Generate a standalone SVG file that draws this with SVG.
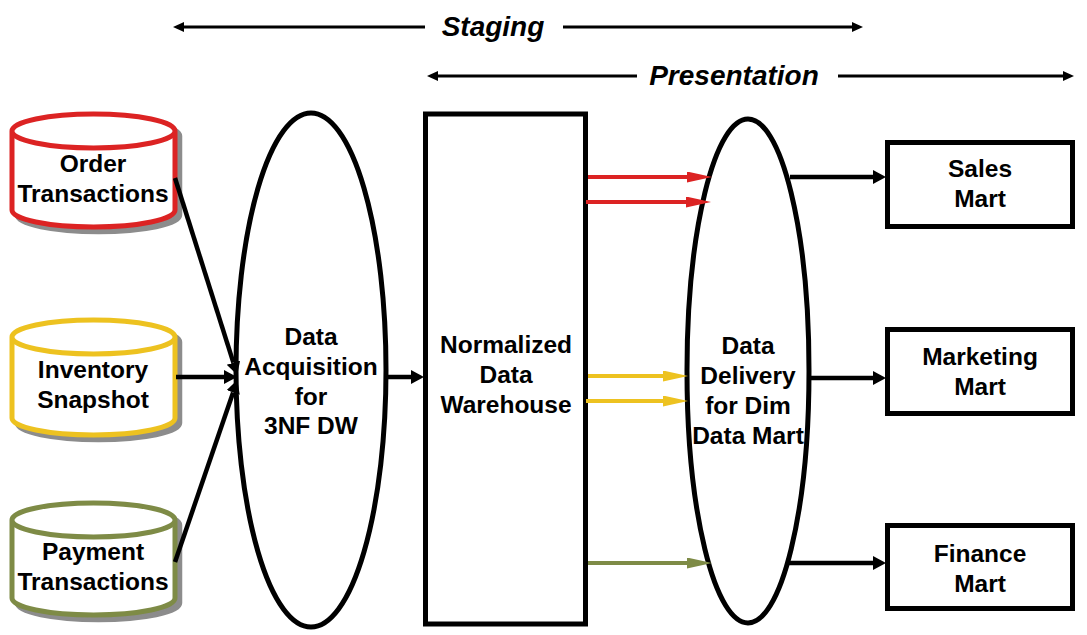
<svg xmlns="http://www.w3.org/2000/svg" width="1087" height="635" viewBox="0 0 1087 635">
<style>
.t{font-family:"Liberation Sans",Arial,sans-serif;font-weight:bold;font-size:24.5px;fill:#000;text-anchor:middle}
.h{font-family:"Liberation Sans",Arial,sans-serif;font-weight:bold;font-style:italic;font-size:28px;fill:#000;text-anchor:middle}
.shape{fill:#fff;stroke:#000;stroke-width:5}
.shadow{fill:#8c8c8c;stroke:#8c8c8c;stroke-width:4.5}
.cyl{fill:#fff;stroke-width:5}
.blk{stroke:#000;stroke-width:4.5;fill:none}
.top{stroke:#000;stroke-width:3;fill:none}
</style>
<defs>
<marker id="ab" markerUnits="userSpaceOnUse" markerWidth="14" markerHeight="16" refX="0" refY="7" orient="auto" viewBox="0 0 14 16"><path d="M0,0 L13,7 L0,14 Z" fill="#000"/></marker>
<marker id="at" markerUnits="userSpaceOnUse" markerWidth="12" markerHeight="12" refX="0" refY="5" orient="auto" viewBox="0 0 12 12"><path d="M0,0 L11,5 L0,10 Z" fill="#000"/></marker>
<marker id="ar" markerUnits="userSpaceOnUse" markerWidth="26" markerHeight="12" refX="0" refY="5.5" orient="auto" viewBox="0 0 26 12"><path d="M0,0 L25,5.5 L0,11 Z" fill="#dc2323"/></marker>
<marker id="ay" markerUnits="userSpaceOnUse" markerWidth="26" markerHeight="12" refX="0" refY="5.5" orient="auto" viewBox="0 0 26 12"><path d="M0,0 L25,5.5 L0,11 Z" fill="#edc220"/></marker>
<marker id="ao" markerUnits="userSpaceOnUse" markerWidth="26" markerHeight="12" refX="0" refY="5.5" orient="auto" viewBox="0 0 26 12"><path d="M0,0 L25,5.5 L0,11 Z" fill="#7e8b46"/></marker>
</defs>

<g id="staging-label">
<line class="top" x1="425" y1="27" x2="184" y2="27" marker-end="url(#at)"/>
<line class="top" x1="563" y1="27" x2="852" y2="27" marker-end="url(#at)"/>
<text class="h" x="493" y="36">Staging</text>
</g>
<g id="presentation-label">
<line class="top" x1="637" y1="76" x2="438" y2="76" marker-end="url(#at)"/>
<line class="top" x1="838" y1="76" x2="1063" y2="76" marker-end="url(#at)"/>
<text class="h" x="734" y="85">Presentation</text>
</g>

<g id="order-transactions">
<path class="shadow" transform="translate(5,5)" d="M12,131 L12,210 A81.5,17 0 0 0 175,210 L175,131 A81.5,17 0 0 0 12,131 Z"/>
<path class="cyl" stroke="#dc2323" d="M12,131 L12,210 A81.5,17 0 0 0 175,210 L175,131 A81.5,17 0 0 0 12,131 Z M12,131 A81.5,17 0 0 0 175,131"/>
<text class="t" x="93" y="172">Order</text>
<text class="t" x="93" y="202">Transactions</text>
</g>
<g id="inventory-snapshot">
<path class="shadow" transform="translate(5,5)" d="M12,337 L12,418 A81.5,17 0 0 0 175,418 L175,337 A81.5,17 0 0 0 12,337 Z"/>
<path class="cyl" stroke="#edc220" d="M12,337 L12,418 A81.5,17 0 0 0 175,418 L175,337 A81.5,17 0 0 0 12,337 Z M12,337 A81.5,17 0 0 0 175,337"/>
<text class="t" x="93" y="378">Inventory</text>
<text class="t" x="93" y="408">Snapshot</text>
</g>
<g id="payment-transactions">
<path class="shadow" transform="translate(5,5)" d="M12,520 L12,598 A81.5,17 0 0 0 175,598 L175,520 A81.5,17 0 0 0 12,520 Z"/>
<path class="cyl" stroke="#7e8b46" d="M12,520 L12,598 A81.5,17 0 0 0 175,598 L175,520 A81.5,17 0 0 0 12,520 Z M12,520 A81.5,17 0 0 0 175,520"/>
<text class="t" x="93" y="560">Payment</text>
<text class="t" x="93" y="590">Transactions</text>
</g>

<g id="data-acquisition">
<ellipse class="shape" cx="311" cy="370" rx="75" ry="257"/>
<text class="t" x="311" y="345">Data</text>
<text class="t" x="311" y="375">Acquisition</text>
<text class="t" x="311" y="405">for</text>
<text class="t" x="311" y="434">3NF DW</text>
</g>
<g id="normalized-dw">
<rect class="shape" x="425.5" y="114" width="160" height="510"/>
<text class="t" x="506" y="353">Normalized</text>
<text class="t" x="506" y="383">Data</text>
<text class="t" x="506" y="413">Warehouse</text>
</g>
<g id="data-delivery">
<ellipse class="shape" cx="748" cy="371" rx="61" ry="252"/>
<text class="t" x="748" y="354">Data</text>
<text class="t" x="748" y="384">Delivery</text>
<text class="t" x="748" y="414">for Dim</text>
<text class="t" x="748" y="444">Data Mart</text>
</g>
<g id="sales-mart">
<rect class="shape" x="887.5" y="142.5" width="185" height="84"/>
<text class="t" x="980" y="177">Sales</text>
<text class="t" x="980" y="207">Mart</text>
</g>
<g id="marketing-mart">
<rect class="shape" x="887.5" y="329.5" width="185" height="84"/>
<text class="t" x="980" y="365">Marketing</text>
<text class="t" x="980" y="395">Mart</text>
</g>
<g id="finance-mart">
<rect class="shape" x="887.5" y="525.5" width="185" height="83"/>
<text class="t" x="980" y="562">Finance</text>
<text class="t" x="980" y="592">Mart</text>
</g>

<g id="connectors">
<line class="blk" x1="175" y1="178" x2="233.4" y2="362.6" marker-end="url(#ab)"/>
<line class="blk" x1="176" y1="377" x2="224" y2="377" marker-end="url(#ab)"/>
<line class="blk" x1="175" y1="562" x2="233.1" y2="392.4" marker-end="url(#ab)"/>
<line class="blk" x1="388" y1="377" x2="411" y2="377" marker-end="url(#ab)"/>
<line stroke="#dc2323" stroke-width="4" x1="588" y1="177" x2="687" y2="177" marker-end="url(#ar)"/>
<line stroke="#dc2323" stroke-width="4" x1="586" y1="202" x2="686" y2="202" marker-end="url(#ar)"/>
<line stroke="#edc220" stroke-width="4" x1="588" y1="376" x2="663" y2="376" marker-end="url(#ay)"/>
<line stroke="#edc220" stroke-width="4" x1="586" y1="401" x2="663" y2="401" marker-end="url(#ay)"/>
<line stroke="#7e8b46" stroke-width="4" x1="588" y1="563" x2="687" y2="563" marker-end="url(#ao)"/>
<line class="blk" x1="790" y1="177" x2="873" y2="177" marker-end="url(#ab)"/>
<line class="blk" x1="811" y1="378" x2="873" y2="378" marker-end="url(#ab)"/>
<line class="blk" x1="787" y1="563" x2="873" y2="563" marker-end="url(#ab)"/>
</g>
</svg>
